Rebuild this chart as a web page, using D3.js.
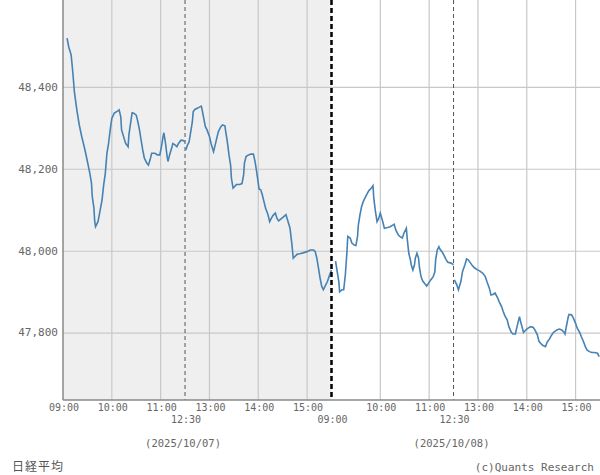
<!DOCTYPE html>
<html>
<head>
<meta charset="utf-8">
<script src="https://cdn.jsdelivr.net/npm/d3@7"></script>
<style>
  body { margin: 0; background: #fff; }
  .tick-label { font-family: "DejaVu Sans Mono", monospace; fill: #666; }
</style>
</head>
<body>
<div class="chart"></div>
<script>
var svgWidth = 600;
var svgHeight = 475;

var margin = { top: 0, right: 0, bottom: 75, left: 63 };
var width = svgWidth - margin.left - margin.right;
var height = svgHeight - margin.top - margin.bottom;

// data (Nikkei 225, two sessions per day)
var dates = ["2025/10/07", "2025/10/08"];
var timeTicks = ["09:00", "10:00", "11:00", "12:30", "13:00", "14:00", "15:00"];
var yTicks = [47800, 48000, 48200, 48400];

var day1Times = ["09:05","09:07","09:10","09:12","09:14","09:17","09:20","09:23","09:27","09:30",
  "09:33","09:35","09:36","09:38","09:39","09:40","09:43","09:45","09:48","09:50",
  "09:52","09:53","09:54","09:56","09:58","10:00","10:03","10:07","10:09","10:11",
  "10:12","10:15","10:17","10:20","10:21","10:23","10:25","10:27","10:30","10:32",
  "10:34","10:36","10:38","10:40","10:43","10:45","10:47","10:49","10:53","10:56",
  "10:59","11:01","11:03","11:04","11:06","11:08","11:09","11:11","11:14","11:15",
  "11:18","11:20","11:22","11:25","11:28","11:30",
  "12:31","12:33","12:35","12:37","12:39","12:40","12:42","12:45","12:47","12:50",
  "12:51","12:53","12:55","12:57","13:00","13:02","13:05","13:07","13:09","13:11",
  "13:14","13:16","13:19","13:20","13:22","13:24","13:26","13:27","13:29","13:31",
  "13:33","13:37","13:40","13:42","13:43","13:45","13:48","13:51","13:54","13:56",
  "13:58","14:00","14:01","14:03","14:05","14:07","14:09","14:12","14:14","14:16",
  "14:18","14:21","14:23","14:25","14:28","14:31","14:34","14:36","14:39","14:41",
  "14:43","14:45","14:48","14:51","14:55","15:00","15:04","15:08","15:10","15:12",
  "15:14","15:16","15:18","15:20","15:22","15:25","15:27","15:30"];
var day1Values = [48520,48499,48479,48438,48389,48345,48308,48280,48247,48219,
  48190,48166,48133,48105,48072,48060,48072,48093,48125,48162,
  48190,48215,48239,48263,48296,48324,48337,48342,48345,48328,
  48296,48276,48263,48255,48284,48312,48338,48337,48332,48316,
  48296,48271,48247,48227,48215,48210,48223,48239,48239,48235,
  48235,48255,48280,48289,48263,48231,48219,48235,48255,48263,
  48259,48255,48263,48271,48270,48267,
  48247,48259,48267,48292,48316,48340,48346,48349,48351,48354,
  48345,48324,48304,48296,48280,48263,48243,48259,48276,48292,
  48304,48308,48306,48292,48267,48235,48210,48178,48154,48158,
  48163,48163,48165,48186,48215,48231,48235,48237,48237,48219,
  48194,48166,48152,48150,48137,48121,48105,48089,48072,48080,
  48087,48093,48080,48074,48079,48084,48089,48076,48056,48023,
  47983,47987,47993,47994,47996,47999,48003,48003,47999,47983,
  47959,47934,47914,47906,47914,47926,47938,47954];

var day2Times = ["09:05","09:07","09:09","09:10","09:13","09:15","09:17","09:19","09:20","09:23",
  "09:25","09:28","09:30","09:32","09:33","09:35","09:37","09:39","09:42","09:44",
  "09:46","09:49","09:51","09:52","09:54","09:56","09:58","10:00","10:03","10:05",
  "10:09","10:12","10:14","10:17","10:19","10:22","10:24","10:27","10:29","10:32",
  "10:33","10:35","10:37","10:38","10:40","10:42","10:43","10:45","10:47","10:48",
  "10:50","10:52","10:55","10:57","11:00","11:02","11:05","11:07","11:08","11:10",
  "11:12","11:13","11:16","11:18","11:21","11:23","11:27","11:30",
  "12:31","12:34","12:36","12:39","12:41","12:44","12:46","12:48","12:51","12:53",
  "12:56","12:59","13:02","13:06","13:09","13:11","13:14","13:16","13:19","13:21",
  "13:24","13:26","13:29","13:31","13:33","13:36","13:38","13:41","13:43","13:46",
  "13:48","13:50","13:51","13:53","13:56","13:58","14:00","14:03","14:05","14:08",
  "14:10","14:13","14:15","14:18","14:20","14:23","14:25","14:28","14:30","14:33",
  "14:37","14:40","14:43","14:46","14:47","14:49","14:51","14:52","14:55","14:57",
  "15:00","15:02","15:05","15:07","15:10","15:12","15:14","15:17","15:20","15:23",
  "15:27","15:29"];
var day2Values = [47976,47950,47926,47901,47906,47906,47942,47999,48036,48032,
  48020,48015,48014,48036,48064,48089,48109,48121,48133,48141,
  48148,48154,48160,48129,48097,48072,48080,48093,48072,48056,
  48058,48060,48062,48066,48052,48040,48036,48032,48044,48056,
  48032,47995,47979,47967,47954,47967,47983,47995,47983,47962,
  47938,47928,47920,47915,47924,47930,47938,47950,47979,48003,
  48011,48006,47998,47991,47979,47973,47971,47967,
  47930,47918,47906,47926,47950,47967,47981,47979,47971,47965,
  47959,47955,47952,47946,47938,47926,47910,47893,47895,47898,
  47887,47877,47865,47853,47843,47832,47816,47802,47798,47798,
  47816,47832,47840,47824,47802,47806,47810,47814,47816,47814,
  47808,47796,47780,47773,47770,47767,47778,47786,47794,47802,
  47808,47810,47808,47802,47798,47820,47840,47846,47845,47838,
  47824,47812,47802,47792,47778,47767,47759,47755,47753,47753,
  47751,47743];

// 09:00-11:30 and 12:30-15:30 -> 330 trading minutes per day
function tradingMinute(dayIndex, t) {
  var p = t.split(":");
  var mins = (+p[0]) * 60 + (+p[1]) - 540;
  if (mins > 150) mins -= 60;
  return dayIndex * 330 + mins;
}

var svg = d3.select(".chart")
  .append("svg")
  .attr("width", svgWidth)
  .attr("height", svgHeight);

var chart = svg.append("g")
  .attr("transform", "translate(" + margin.left + "," + margin.top + ")");

var xScale = d3.scaleLinear().domain([0, 660]).range([0, width]);
var yScale = d3.scaleLinear().domain([47637, 48613]).range([height, 0]);

// first day shaded
chart.append("rect")
  .attr("x", xScale(0))
  .attr("y", 0)
  .attr("width", xScale(330) - xScale(0))
  .attr("height", height)
  .attr("fill", "#efefef");

// horizontal grid + y labels
yTicks.forEach(function(v) {
  chart.append("line")
    .attr("x1", 0).attr("x2", width)
    .attr("y1", yScale(v)).attr("y2", yScale(v))
    .attr("stroke", "#c8c8c8").attr("stroke-width", 1.2);
  chart.append("text")
    .attr("class", "tick-label")
    .attr("x", -5)
    .attr("y", yScale(v))
    .attr("dy", "0.3em")
    .attr("text-anchor", "end")
    .style("font-size", "11px")
    .text(d3.format(",")(v));
});

// vertical grid, break lines and x labels
dates.forEach(function(date, di) {
  timeTicks.forEach(function(t) {
    var m = tradingMinute(di, t);
    var x = xScale(m);
    var secondRow = (t == "12:30") || (t == "09:00" && di > 0);
    if (t == "12:30") {
      chart.append("line")
        .attr("x1", x).attr("x2", x).attr("y1", 0).attr("y2", height)
        .attr("stroke", "#555").attr("stroke-width", 1)
        .attr("stroke-dasharray", "4,3");
    } else if (t != "09:00") {
      chart.append("line")
        .attr("x1", x).attr("x2", x).attr("y1", 0).attr("y2", height)
        .attr("stroke", "#c8c8c8").attr("stroke-width", 1.2);
    }
    chart.append("text")
      .attr("class", "tick-label")
      .attr("x", x + 1)
      .attr("y", secondRow ? 423 : 411)
      .attr("text-anchor", "middle")
      .style("font-size", "10px")
      .text(t);
  });

  chart.append("text")
    .attr("class", "tick-label")
    .attr("x", xScale(di * 330 + 150) - 2)
    .attr("y", 447)
    .attr("text-anchor", "middle")
    .style("font-size", "10.5px")
    .text("(" + date + ")");
});

// axes lines
chart.append("line")
  .attr("x1", 0).attr("x2", 0).attr("y1", 0).attr("y2", height)
  .attr("stroke", "#888").attr("stroke-width", 1.5);
chart.append("line")
  .attr("x1", 0).attr("x2", width).attr("y1", height).attr("y2", height)
  .attr("stroke", "#888").attr("stroke-width", 1.5);

// build sessions
var sessions = [];
[[day1Times, day1Values], [day2Times, day2Values]].forEach(function(d, di) {
  var am = [], pm = [];
  d[0].forEach(function(t, i) {
    var pt = { m: tradingMinute(di, t), v: d[1][i] };
    if (t <= "11:30") am.push(pt); else pm.push(pt);
  });
  sessions.push(am, pm);
});

var line = d3.line()
  .x(function(d) { return xScale(d.m); })
  .y(function(d) { return yScale(d.v); });

chart.selectAll(".session")
  .data(sessions)
  .enter().append("path")
  .attr("class", "session")
  .attr("d", line)
  .attr("fill", "none")
  .attr("stroke", "#4682b4")
  .attr("stroke-width", 1.6);

// day boundary
chart.append("line")
  .attr("x1", xScale(330)).attr("x2", xScale(330))
  .attr("y1", 0).attr("y2", height)
  .attr("stroke", "#000").attr("stroke-width", 2.5)
  .attr("stroke-dasharray", "5,3");

svg.append("text")
  .attr("x", 12)
  .attr("y", 471)
  .style("font-family", "'Noto Sans CJK JP', sans-serif")
  .style("font-size", "12px")
  .style("letter-spacing", "1px")
  .attr("fill", "#555")
  .text("日経平均");

svg.append("text")
  .attr("class", "tick-label")
  .attr("x", 594)
  .attr("y", 471)
  .attr("text-anchor", "end")
  .style("font-size", "11px")
  .text("(c)Quants Research");
</script>
</body>
</html>
